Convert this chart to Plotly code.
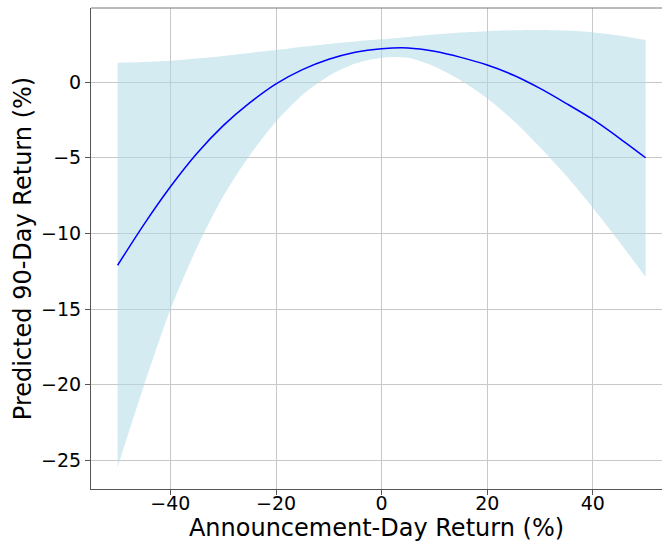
import plotly.graph_objects as go

# Data
x_vals = [-50, -45, -40, -35, -30, -25, -20, -15, -10, -5, 0, 5, 10, 15, 20, 25, 30, 35, 40, 45, 50]
pred_mean = [-12.1, -9.4, -6.92, -4.72, -2.88, -1.38, -0.12, 0.82, 1.5, 1.97, 2.2, 2.25, 2.03, 1.63,
             1.12, 0.45, -0.42, -1.42, -2.47, -3.7, -5.0]
upper_ci = [1.28, 1.33, 1.41, 1.55, 1.72, 1.92, 2.11, 2.33, 2.52, 2.68, 2.82, 2.98, 3.14, 3.27, 3.36,
            3.42, 3.44, 3.40, 3.28, 3.08, 2.78]
lower_ci = [-25.43, -20.05, -15.03, -10.95, -7.55, -4.85, -2.6, -0.85, 0.4, 1.22, 1.61, 1.6, 1.02, 0.1,
            -1.08, -2.55, -4.3, -6.2, -8.3, -10.55, -12.87]

x_ticks = [-40, -20, 0, 20, 40]
y_ticks = [-25, -20, -15, -10, -5, 0]

fig = go.Figure()
fig.add_trace(go.Scatter(x=x_vals, y=lower_ci, mode="lines",
                         line=dict(width=0, shape="spline", smoothing=0.8),
                         showlegend=False, hoverinfo="skip"))
fig.add_trace(go.Scatter(x=x_vals, y=upper_ci, mode="lines",
                         line=dict(width=0, shape="spline", smoothing=0.8),
                         fill="tonexty", fillcolor="rgba(173,216,230,0.52)", showlegend=False,
                         hoverinfo="skip"))
fig.add_trace(go.Scatter(x=x_vals, y=pred_mean, mode="lines",
                         line=dict(color="blue", width=1.5, shape="spline", smoothing=0.8),
                         showlegend=False))

font = dict(family="DejaVu Sans", size=19, color="black")
title_font = dict(family="DejaVu Sans", size=24, color="black")
fig.update_layout(
    width=662, height=544,
    margin=dict(l=91, r=0, t=8, b=55),
    paper_bgcolor="white", plot_bgcolor="white",
    font=font,
    xaxis=dict(range=[-55.04, 53.1], tickvals=x_ticks, showgrid=True, gridcolor="#c8c8c8",
               gridwidth=1, zeroline=False, showline=True, linecolor="#555555", linewidth=1,
               ticks="outside", ticklen=5, tickcolor="#555555", tickfont=font,
               ticklabelstandoff=-8,
               title=dict(text="Announcement-Day Return (%)", font=title_font, standoff=0),
               automargin=False),
    yaxis=dict(range=[-26.88, 4.89], tickvals=y_ticks, showgrid=True, gridcolor="#c8c8c8",
               gridwidth=1, zeroline=False, showline=True, linecolor="#555555", linewidth=1,
               ticks="outside", ticklen=5, tickcolor="#555555", tickfont=font,
               title=dict(text="Predicted 90-Day Return (%)", font=title_font, standoff=2),
               automargin=False),
    shapes=[dict(type="line", xref="paper", yref="paper", x0=0, x1=1, y0=1, y1=1,
                 line=dict(color="#777777", width=1))],
)

fig.write_html("out.html")
